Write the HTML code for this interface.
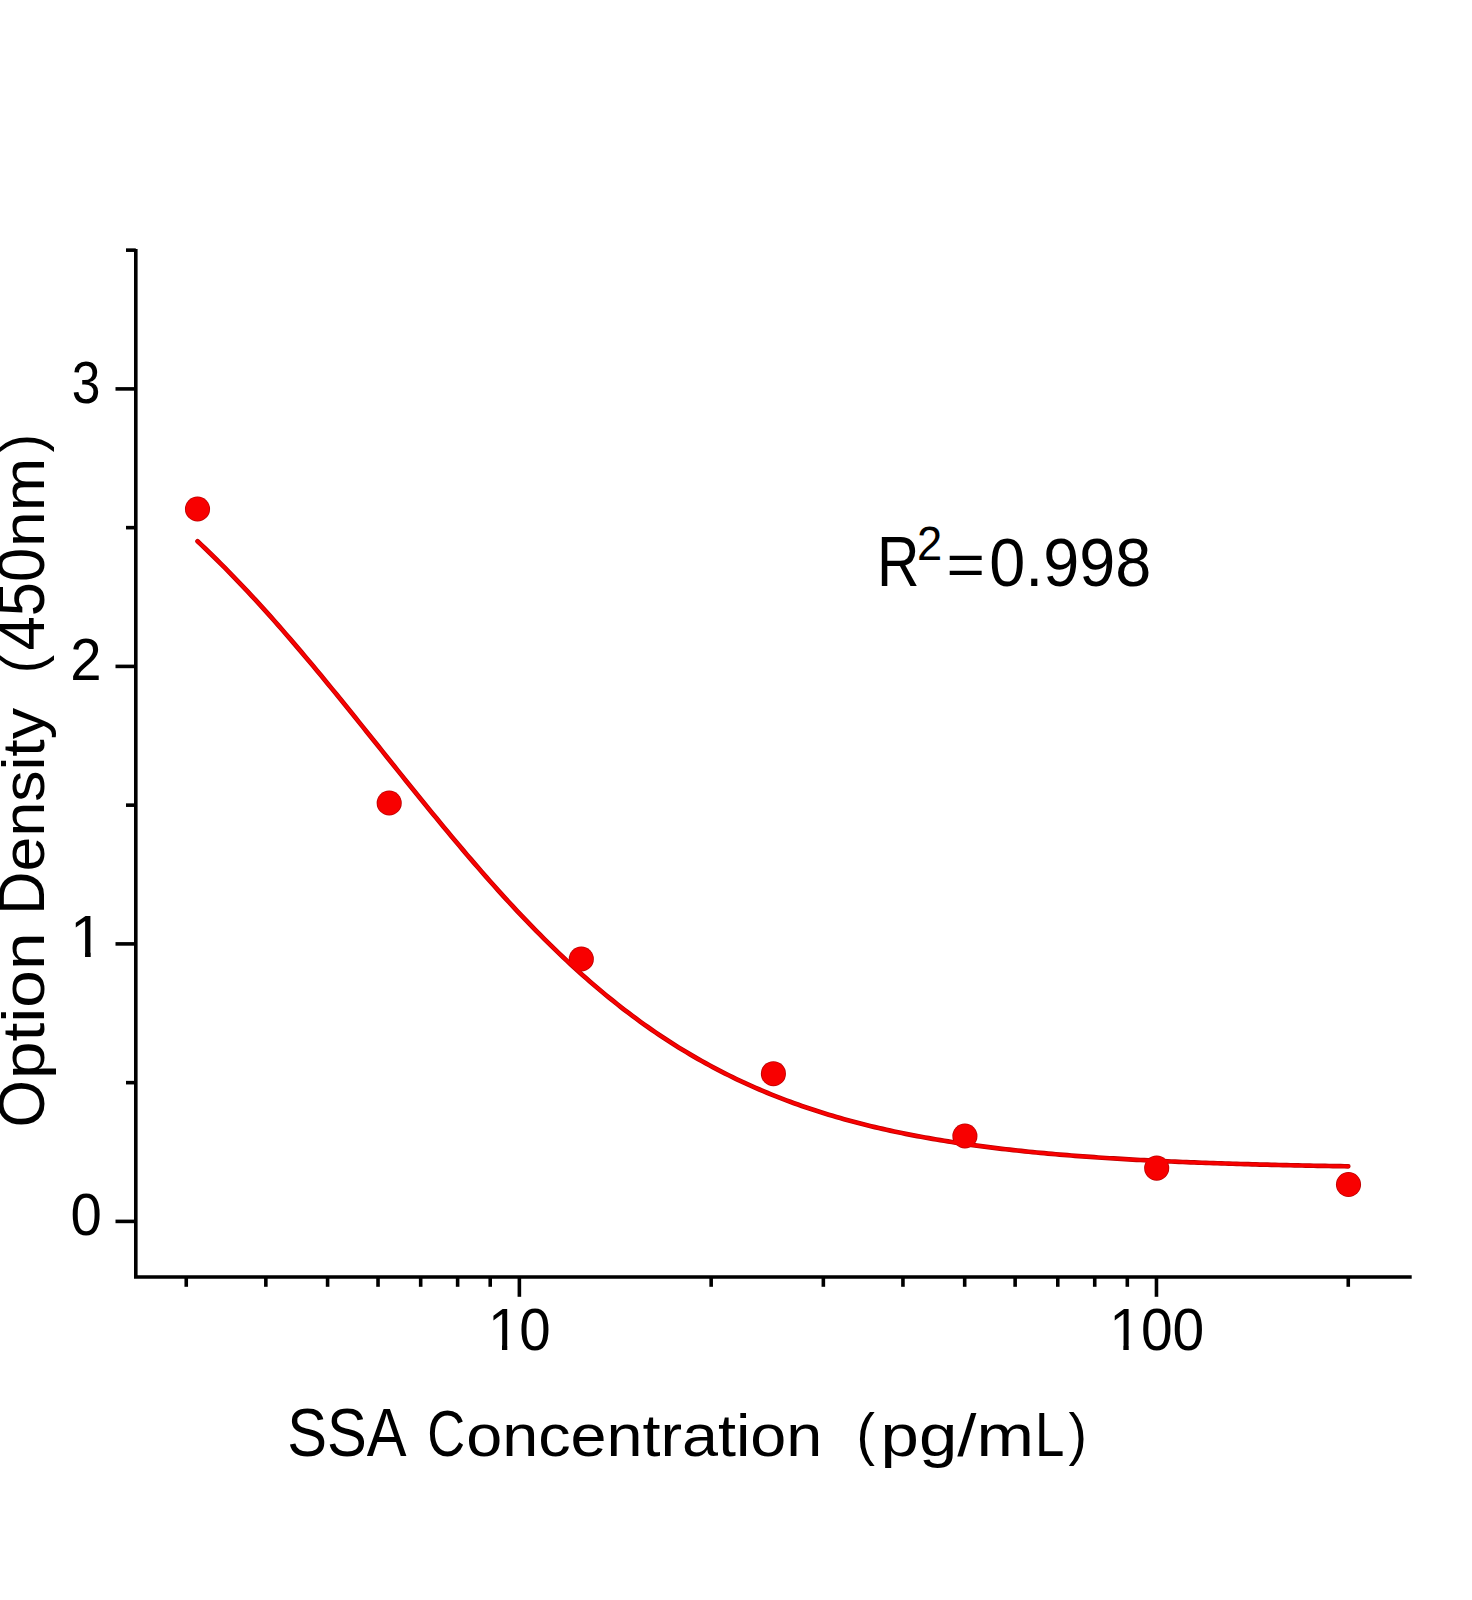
<!DOCTYPE html>
<html><head><meta charset="utf-8"><style>
html,body{margin:0;padding:0;background:#fff;}
body{width:1472px;height:1600px;overflow:hidden;position:relative;}
svg{position:absolute;left:0;top:0;}
text{font-family:"Liberation Sans","Noto Sans CJK SC",sans-serif;font-size:66.0px;fill:#000;}
</style></head><body>
<svg width="1472" height="1600" viewBox="0 0 1472 1600">
<defs><clipPath id="c1" clipPathUnits="userSpaceOnUse"><rect x="-10" y="-70" width="60" height="64.2"/><rect x="16.4" y="-6" width="6.2" height="8"/></clipPath><clipPath id="c1w" clipPathUnits="userSpaceOnUse"><rect x="-10" y="-70" width="300" height="64.2"/><rect x="16.4" y="-6" width="6.2" height="8"/><rect x="35" y="-70" width="300" height="100"/></clipPath></defs>
<rect width="1472" height="1600" fill="#fff"/>
<g stroke="#000" stroke-width="3.6" fill="none" stroke-linecap="butt">
<path d="M135.8,249 L135.8,1277.0 L1411.7,1277.0" stroke-linejoin="miter"/>
<line x1="115.5" y1="1221.40" x2="135.8" y2="1221.40"/>
<line x1="115.5" y1="943.90" x2="135.8" y2="943.90"/>
<line x1="115.5" y1="666.40" x2="135.8" y2="666.40"/>
<line x1="115.5" y1="388.90" x2="135.8" y2="388.90"/>
<line x1="126" y1="1082.65" x2="135.8" y2="1082.65"/>
<line x1="126" y1="805.15" x2="135.8" y2="805.15"/>
<line x1="126" y1="527.65" x2="135.8" y2="527.65"/>
<line x1="126" y1="250.15" x2="135.8" y2="250.15"/>
<line x1="519.37" y1="1277.0" x2="519.37" y2="1296.8"/>
<line x1="1156.47" y1="1277.0" x2="1156.47" y2="1296.8"/>
<line x1="186.25" y1="1277.0" x2="186.25" y2="1286.8"/>
<line x1="265.84" y1="1277.0" x2="265.84" y2="1286.8"/>
<line x1="327.59" y1="1277.0" x2="327.59" y2="1286.8"/>
<line x1="378.03" y1="1277.0" x2="378.03" y2="1286.8"/>
<line x1="420.68" y1="1277.0" x2="420.68" y2="1286.8"/>
<line x1="457.63" y1="1277.0" x2="457.63" y2="1286.8"/>
<line x1="490.22" y1="1277.0" x2="490.22" y2="1286.8"/>
<line x1="711.16" y1="1277.0" x2="711.16" y2="1286.8"/>
<line x1="823.35" y1="1277.0" x2="823.35" y2="1286.8"/>
<line x1="902.94" y1="1277.0" x2="902.94" y2="1286.8"/>
<line x1="964.69" y1="1277.0" x2="964.69" y2="1286.8"/>
<line x1="1015.13" y1="1277.0" x2="1015.13" y2="1286.8"/>
<line x1="1057.78" y1="1277.0" x2="1057.78" y2="1286.8"/>
<line x1="1094.73" y1="1277.0" x2="1094.73" y2="1286.8"/>
<line x1="1127.32" y1="1277.0" x2="1127.32" y2="1286.8"/>
<line x1="1348.26" y1="1277.0" x2="1348.26" y2="1286.8"/>
</g>
<g fill="none" stroke-linecap="round" stroke-linejoin="round">
<polyline points="197.54,541.26 201.39,544.88 205.24,548.54 209.09,552.24 212.94,555.98 216.78,559.77 220.63,563.59 224.48,567.45 228.33,571.35 232.18,575.29 236.03,579.27 239.88,583.28 243.72,587.33 247.57,591.42 251.42,595.55 255.27,599.71 259.12,603.90 262.97,608.13 266.82,612.40 270.66,616.69 274.51,621.02 278.36,625.38 282.21,629.76 286.06,634.18 289.91,638.63 293.76,643.10 297.60,647.60 301.45,652.13 305.30,656.68 309.15,661.25 313.00,665.85 316.85,670.46 320.70,675.10 324.54,679.76 328.39,684.44 332.24,689.13 336.09,693.84 339.94,698.56 343.79,703.30 347.63,708.05 351.48,712.81 355.33,717.58 359.18,722.36 363.03,727.15 366.88,731.94 370.73,736.74 374.57,741.54 378.42,746.34 382.27,751.15 386.12,755.95 389.97,760.76 393.82,765.56 397.67,770.36 401.51,775.15 405.36,779.93 409.21,784.71 413.06,789.48 416.91,794.24 420.76,798.99 424.61,803.73 428.45,808.45 432.30,813.15 436.15,817.84 440.00,822.52 443.85,827.17 447.70,831.81 451.55,836.42 455.39,841.02 459.24,845.59 463.09,850.13 466.94,854.65 470.79,859.15 474.64,863.62 478.49,868.06 482.33,872.48 486.18,876.86 490.03,881.21 493.88,885.54 497.73,889.83 501.58,894.08 505.43,898.31 509.27,902.50 513.12,906.66 516.97,910.78 520.82,914.86 524.67,918.91 528.52,922.92 532.37,926.89 536.21,930.82 540.06,934.72 543.91,938.58 547.76,942.39 551.61,946.17 555.46,949.91 559.31,953.60 563.15,957.26 567.00,960.87 570.85,964.44 574.70,967.97 578.55,971.46 582.40,974.91 586.25,978.31 590.09,981.67 593.94,984.99 597.79,988.27 601.64,991.50 605.49,994.69 609.34,997.84 613.19,1000.95 617.03,1004.02 620.88,1007.04 624.73,1010.02 628.58,1012.95 632.43,1015.85 636.28,1018.70 640.12,1021.52 643.97,1024.29 647.82,1027.02 651.67,1029.70 655.52,1032.35 659.37,1034.96 663.22,1037.52 667.06,1040.05 670.91,1042.54 674.76,1044.98 678.61,1047.39 682.46,1049.76 686.31,1052.09 690.16,1054.38 694.00,1056.63 697.85,1058.85 701.70,1061.03 705.55,1063.17 709.40,1065.27 713.25,1067.34 717.10,1069.38 720.94,1071.38 724.79,1073.34 728.64,1075.27 732.49,1077.16 736.34,1079.02 740.19,1080.85 744.04,1082.65 747.88,1084.41 751.73,1086.14 755.58,1087.84 759.43,1089.51 763.28,1091.14 767.13,1092.75 770.98,1094.33 774.82,1095.87 778.67,1097.39 782.52,1098.88 786.37,1100.34 790.22,1101.78 794.07,1103.18 797.92,1104.56 801.76,1105.91 805.61,1107.24 809.46,1108.54 813.31,1109.82 817.16,1111.07 821.01,1112.29 824.86,1113.49 828.70,1114.67 832.55,1115.83 836.40,1116.96 840.25,1118.07 844.10,1119.15 847.95,1120.22 851.80,1121.26 855.64,1122.28 859.49,1123.29 863.34,1124.27 867.19,1125.23 871.04,1126.17 874.89,1127.10 878.74,1128.00 882.58,1128.89 886.43,1129.75 890.28,1130.60 894.13,1131.43 897.98,1132.25 901.83,1133.05 905.68,1133.83 909.52,1134.59 913.37,1135.34 917.22,1136.07 921.07,1136.79 924.92,1137.49 928.77,1138.18 932.61,1138.86 936.46,1139.52 940.31,1140.16 944.16,1140.79 948.01,1141.41 951.86,1142.02 955.71,1142.61 959.55,1143.19 963.40,1143.75 967.25,1144.31 971.10,1144.85 974.95,1145.38 978.80,1145.90 982.65,1146.41 986.49,1146.91 990.34,1147.40 994.19,1147.88 998.04,1148.34 1001.89,1148.80 1005.74,1149.25 1009.59,1149.68 1013.43,1150.11 1017.28,1150.53 1021.13,1150.94 1024.98,1151.34 1028.83,1151.73 1032.68,1152.11 1036.53,1152.49 1040.37,1152.85 1044.22,1153.21 1048.07,1153.56 1051.92,1153.90 1055.77,1154.24 1059.62,1154.57 1063.47,1154.89 1067.31,1155.20 1071.16,1155.51 1075.01,1155.81 1078.86,1156.10 1082.71,1156.39 1086.56,1156.67 1090.41,1156.94 1094.25,1157.21 1098.10,1157.48 1101.95,1157.73 1105.80,1157.98 1109.65,1158.23 1113.50,1158.47 1117.35,1158.70 1121.19,1158.93 1125.04,1159.16 1128.89,1159.38 1132.74,1159.59 1136.59,1159.80 1140.44,1160.01 1144.29,1160.21 1148.13,1160.40 1151.98,1160.59 1155.83,1160.78 1159.68,1160.96 1163.53,1161.14 1167.38,1161.32 1171.23,1161.49 1175.07,1161.66 1178.92,1161.82 1182.77,1161.98 1186.62,1162.14 1190.47,1162.29 1194.32,1162.44 1198.17,1162.59 1202.01,1162.73 1205.86,1162.87 1209.71,1163.01 1213.56,1163.14 1217.41,1163.27 1221.26,1163.40 1225.10,1163.52 1228.95,1163.64 1232.80,1163.76 1236.65,1163.88 1240.50,1163.99 1244.35,1164.11 1248.20,1164.21 1252.04,1164.32 1255.89,1164.42 1259.74,1164.53 1263.59,1164.63 1267.44,1164.72 1271.29,1164.82 1275.14,1164.91 1278.98,1165.00 1282.83,1165.09 1286.68,1165.18 1290.53,1165.26 1294.38,1165.34 1298.23,1165.43 1302.08,1165.50 1305.92,1165.58 1309.77,1165.66 1313.62,1165.73 1317.47,1165.80 1321.32,1165.87 1325.17,1165.94 1329.02,1166.01 1332.86,1166.08 1336.71,1166.14 1340.56,1166.20 1344.41,1166.27 1348.26,1166.33" stroke="#bc0000" stroke-width="4.7"/>
</g>
<g fill="#bc0000">
<circle cx="197.5" cy="509" r="12.55"/>
<circle cx="389.2" cy="803" r="12.55"/>
<circle cx="581.3" cy="959" r="12.55"/>
<circle cx="773.4" cy="1073.7" r="12.55"/>
<circle cx="964.9" cy="1136" r="12.55"/>
<circle cx="1156.7" cy="1168.1" r="12.55"/>
<circle cx="1348.5" cy="1184.5" r="12.55"/>
</g>
<g fill="none" stroke-linecap="round" stroke-linejoin="round">
<polyline points="197.54,541.26 201.39,544.88 205.24,548.54 209.09,552.24 212.94,555.98 216.78,559.77 220.63,563.59 224.48,567.45 228.33,571.35 232.18,575.29 236.03,579.27 239.88,583.28 243.72,587.33 247.57,591.42 251.42,595.55 255.27,599.71 259.12,603.90 262.97,608.13 266.82,612.40 270.66,616.69 274.51,621.02 278.36,625.38 282.21,629.76 286.06,634.18 289.91,638.63 293.76,643.10 297.60,647.60 301.45,652.13 305.30,656.68 309.15,661.25 313.00,665.85 316.85,670.46 320.70,675.10 324.54,679.76 328.39,684.44 332.24,689.13 336.09,693.84 339.94,698.56 343.79,703.30 347.63,708.05 351.48,712.81 355.33,717.58 359.18,722.36 363.03,727.15 366.88,731.94 370.73,736.74 374.57,741.54 378.42,746.34 382.27,751.15 386.12,755.95 389.97,760.76 393.82,765.56 397.67,770.36 401.51,775.15 405.36,779.93 409.21,784.71 413.06,789.48 416.91,794.24 420.76,798.99 424.61,803.73 428.45,808.45 432.30,813.15 436.15,817.84 440.00,822.52 443.85,827.17 447.70,831.81 451.55,836.42 455.39,841.02 459.24,845.59 463.09,850.13 466.94,854.65 470.79,859.15 474.64,863.62 478.49,868.06 482.33,872.48 486.18,876.86 490.03,881.21 493.88,885.54 497.73,889.83 501.58,894.08 505.43,898.31 509.27,902.50 513.12,906.66 516.97,910.78 520.82,914.86 524.67,918.91 528.52,922.92 532.37,926.89 536.21,930.82 540.06,934.72 543.91,938.58 547.76,942.39 551.61,946.17 555.46,949.91 559.31,953.60 563.15,957.26 567.00,960.87 570.85,964.44 574.70,967.97 578.55,971.46 582.40,974.91 586.25,978.31 590.09,981.67 593.94,984.99 597.79,988.27 601.64,991.50 605.49,994.69 609.34,997.84 613.19,1000.95 617.03,1004.02 620.88,1007.04 624.73,1010.02 628.58,1012.95 632.43,1015.85 636.28,1018.70 640.12,1021.52 643.97,1024.29 647.82,1027.02 651.67,1029.70 655.52,1032.35 659.37,1034.96 663.22,1037.52 667.06,1040.05 670.91,1042.54 674.76,1044.98 678.61,1047.39 682.46,1049.76 686.31,1052.09 690.16,1054.38 694.00,1056.63 697.85,1058.85 701.70,1061.03 705.55,1063.17 709.40,1065.27 713.25,1067.34 717.10,1069.38 720.94,1071.38 724.79,1073.34 728.64,1075.27 732.49,1077.16 736.34,1079.02 740.19,1080.85 744.04,1082.65 747.88,1084.41 751.73,1086.14 755.58,1087.84 759.43,1089.51 763.28,1091.14 767.13,1092.75 770.98,1094.33 774.82,1095.87 778.67,1097.39 782.52,1098.88 786.37,1100.34 790.22,1101.78 794.07,1103.18 797.92,1104.56 801.76,1105.91 805.61,1107.24 809.46,1108.54 813.31,1109.82 817.16,1111.07 821.01,1112.29 824.86,1113.49 828.70,1114.67 832.55,1115.83 836.40,1116.96 840.25,1118.07 844.10,1119.15 847.95,1120.22 851.80,1121.26 855.64,1122.28 859.49,1123.29 863.34,1124.27 867.19,1125.23 871.04,1126.17 874.89,1127.10 878.74,1128.00 882.58,1128.89 886.43,1129.75 890.28,1130.60 894.13,1131.43 897.98,1132.25 901.83,1133.05 905.68,1133.83 909.52,1134.59 913.37,1135.34 917.22,1136.07 921.07,1136.79 924.92,1137.49 928.77,1138.18 932.61,1138.86 936.46,1139.52 940.31,1140.16 944.16,1140.79 948.01,1141.41 951.86,1142.02 955.71,1142.61 959.55,1143.19 963.40,1143.75 967.25,1144.31 971.10,1144.85 974.95,1145.38 978.80,1145.90 982.65,1146.41 986.49,1146.91 990.34,1147.40 994.19,1147.88 998.04,1148.34 1001.89,1148.80 1005.74,1149.25 1009.59,1149.68 1013.43,1150.11 1017.28,1150.53 1021.13,1150.94 1024.98,1151.34 1028.83,1151.73 1032.68,1152.11 1036.53,1152.49 1040.37,1152.85 1044.22,1153.21 1048.07,1153.56 1051.92,1153.90 1055.77,1154.24 1059.62,1154.57 1063.47,1154.89 1067.31,1155.20 1071.16,1155.51 1075.01,1155.81 1078.86,1156.10 1082.71,1156.39 1086.56,1156.67 1090.41,1156.94 1094.25,1157.21 1098.10,1157.48 1101.95,1157.73 1105.80,1157.98 1109.65,1158.23 1113.50,1158.47 1117.35,1158.70 1121.19,1158.93 1125.04,1159.16 1128.89,1159.38 1132.74,1159.59 1136.59,1159.80 1140.44,1160.01 1144.29,1160.21 1148.13,1160.40 1151.98,1160.59 1155.83,1160.78 1159.68,1160.96 1163.53,1161.14 1167.38,1161.32 1171.23,1161.49 1175.07,1161.66 1178.92,1161.82 1182.77,1161.98 1186.62,1162.14 1190.47,1162.29 1194.32,1162.44 1198.17,1162.59 1202.01,1162.73 1205.86,1162.87 1209.71,1163.01 1213.56,1163.14 1217.41,1163.27 1221.26,1163.40 1225.10,1163.52 1228.95,1163.64 1232.80,1163.76 1236.65,1163.88 1240.50,1163.99 1244.35,1164.11 1248.20,1164.21 1252.04,1164.32 1255.89,1164.42 1259.74,1164.53 1263.59,1164.63 1267.44,1164.72 1271.29,1164.82 1275.14,1164.91 1278.98,1165.00 1282.83,1165.09 1286.68,1165.18 1290.53,1165.26 1294.38,1165.34 1298.23,1165.43 1302.08,1165.50 1305.92,1165.58 1309.77,1165.66 1313.62,1165.73 1317.47,1165.80 1321.32,1165.87 1325.17,1165.94 1329.02,1166.01 1332.86,1166.08 1336.71,1166.14 1340.56,1166.20 1344.41,1166.27 1348.26,1166.33" stroke="#f80000" stroke-width="3.1"/>
</g>
<g fill="#f80000">
<circle cx="197.5" cy="509" r="11.75"/>
<circle cx="389.2" cy="803" r="11.75"/>
<circle cx="581.3" cy="959" r="11.75"/>
<circle cx="773.4" cy="1073.7" r="11.75"/>
<circle cx="964.9" cy="1136" r="11.75"/>
<circle cx="1156.7" cy="1168.1" r="11.75"/>
<circle cx="1348.5" cy="1184.5" r="11.75"/>
</g>
<text transform="matrix(0.7808 0 0 0.8968 71.65 402.65)">3</text>
<text transform="matrix(0.8529 0 0 0.8891 70.33 679.90)">2</text>
<text transform="matrix(0.8540 0 0 0.8989 70.57 1235.05)">0</text>
<text clip-path="url(#c1)" transform="matrix(0.9108 0 0 0.9033 70.11 957.00)">1</text>
<text clip-path="url(#c1w)" transform="matrix(0.8558 0 0 0.9000 487.95 1350.15)">10</text>
<text clip-path="url(#c1w)" transform="matrix(0.8632 0 0 0.8925 1109.20 1350.05)">100</text>
<text><tspan x="876.89" y="585.80" font-size="69.626" textLength="42.531" lengthAdjust="spacingAndGlyphs">R</tspan><tspan x="916.97" y="559.90" font-size="47.491" textLength="25.240" lengthAdjust="spacingAndGlyphs">2</tspan><tspan x="946.46" y="585.37" font-size="58.633" textLength="38.423" lengthAdjust="spacingAndGlyphs">=</tspan><tspan x="989.35" y="585.52" font-size="68.894" textLength="162.011" lengthAdjust="spacingAndGlyphs">0.998</tspan></text>
<text><tspan x="287.19" y="1456.01" font-size="69.176" textLength="119.269" lengthAdjust="spacingAndGlyphs">SSA</tspan> <tspan x="427.22" y="1455.71" font-size="64.155" textLength="37.903" lengthAdjust="spacingAndGlyphs">C</tspan><tspan x="466.20" y="1456.00" font-size="59.865" textLength="356.171" lengthAdjust="spacingAndGlyphs">oncentration</tspan> <tspan x="856.44" y="1453.57" font-size="57.737" textLength="18.464" lengthAdjust="spacingAndGlyphs">(</tspan><tspan x="880.56" y="1455.90" font-size="59.865" textLength="153.364" lengthAdjust="spacingAndGlyphs">pg/m</tspan><tspan x="1034.90" y="1455.80" font-size="63.244" textLength="29.366" lengthAdjust="spacingAndGlyphs">L</tspan><tspan x="1068.58" y="1453.57" font-size="57.737" textLength="18.464" lengthAdjust="spacingAndGlyphs">)</tspan></text>
<text transform="matrix(0 -1 1 0 0 0)"><tspan x="-1127.40" y="44.00" font-size="64.155" textLength="47.461" lengthAdjust="spacingAndGlyphs">O</tspan><tspan x="-1079.05" y="44.00" font-size="59.307" textLength="146.526" lengthAdjust="spacingAndGlyphs">ption</tspan> <tspan x="-914.72" y="44.00" font-size="64.155" textLength="43.081" lengthAdjust="spacingAndGlyphs">D</tspan><tspan x="-871.40" y="44.00" font-size="59.307" textLength="163.310" lengthAdjust="spacingAndGlyphs">ensity</tspan> <tspan x="-673.14" y="41.57" font-size="57.737" textLength="18.338" lengthAdjust="spacingAndGlyphs">(</tspan><tspan x="-650.40" y="44.00" font-size="66.000" textLength="102.589" lengthAdjust="spacingAndGlyphs">450</tspan><tspan x="-547.14" y="44.00" font-size="59.307" textLength="89.361" lengthAdjust="spacingAndGlyphs">nm</tspan><tspan x="-452.31" y="41.57" font-size="57.737" textLength="18.212" lengthAdjust="spacingAndGlyphs">)</tspan></text>
</svg>
</body></html>
